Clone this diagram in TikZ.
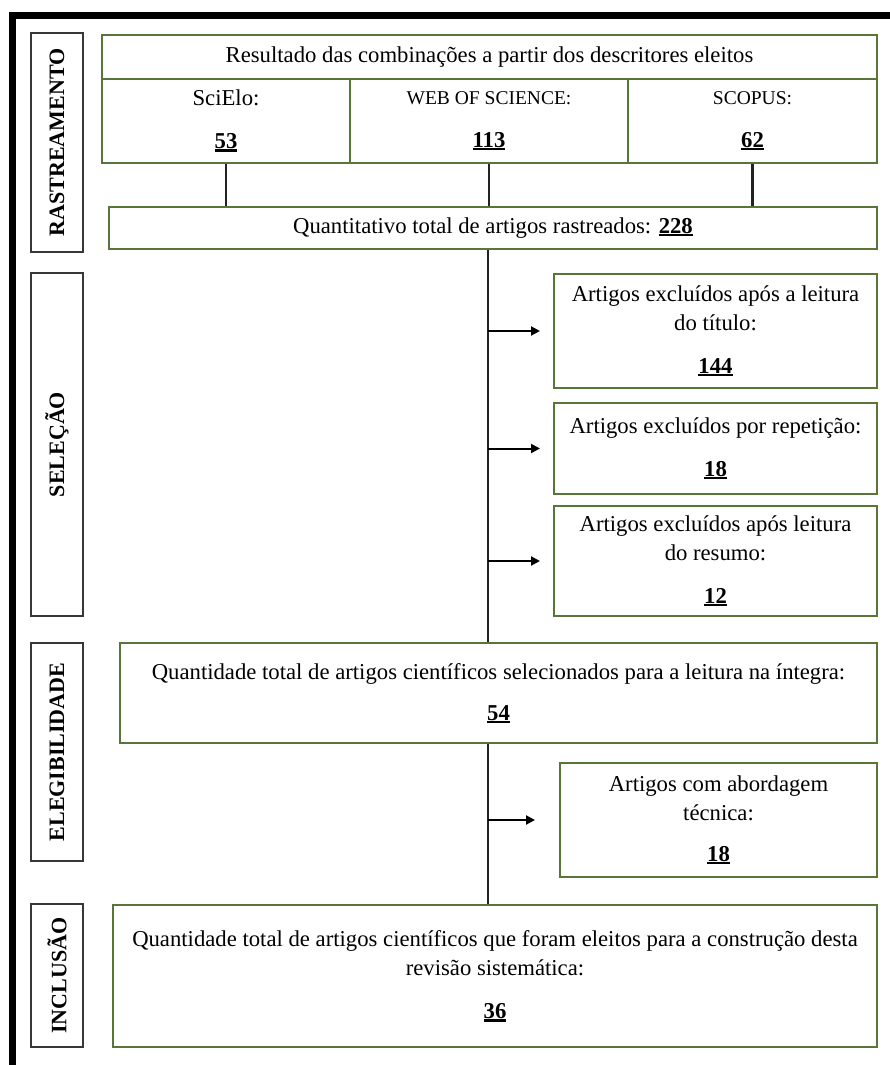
\documentclass[tikz,border=0pt]{standalone}
\usepackage{fontspec}
\setmainfont{Liberation Serif}
\usetikzlibrary{arrows.meta}
\definecolor{boxgreen}{RGB}{88,118,58}
\definecolor{lblgray}{RGB}{55,55,55}
\definecolor{linegray}{RGB}{35,35,35}
\newsavebox\numbox
\newcommand\numul[1]{\sbox\numbox{\textbf{#1}}\rlap{\rule[-3pt]{\wd\numbox}{2.4pt}}\usebox\numbox}
\begin{document}
\begin{tikzpicture}[x=1pt,y=-1pt,font=\fontsize{22.7}{29}\selectfont,
  box/.style={draw=boxgreen,line width=2pt,inner sep=0pt,align=center,anchor=center},
  lbl/.style={draw=lblgray,line width=2pt,inner sep=0pt,rotate=90,anchor=center,
    minimum height=52pt,font=\fontsize{22}{26}\selectfont\bfseries},
  conn/.style={draw=linegray,line width=2.7pt},
  arr/.style={draw=black,line width=2pt,-{Triangle[length=9pt,width=9pt]}},
  small/.style={}]
\useasboundingbox (0,0) rectangle (890,1065);
% outer frame (cut at right and bottom)
\draw[line width=7pt,black,line join=miter] (12.7,1090) -- (12.7,15.5) -- (910,15.5);

% phase labels
\node[lbl,minimum width=219pt] (lrast) at (57,142.5) {RASTREAMENTO};
\node[lbl,minimum width=343pt] (lsel) at (57,444.5) {SELEÇÃO};
\node[lbl,minimum width=218pt] (leleg) at (57,752) {ELEGIBILIDADE};
\node[lbl,minimum width=143pt] (lincl) at (57,975.5) {INCLUSÃO};

% top table
\node[box,minimum width=775pt,minimum height=44pt] (hdr) at (489.5,57)
  {Resultado das combinações a partir dos descritores eleitos};
\node[box,minimum width=248pt,minimum height=84pt] (sci) at (226,121)
  {SciElo:\\[14pt]\numul{53}};
\node[box,minimum width=278pt,minimum height=84pt] (wos) at (489,121)
  {{\fontsize{19.5}{29}\selectfont WEB OF SCIENCE:}\\[14pt]\numul{113}};
\node[box,minimum width=249pt,minimum height=84pt] (sco) at (752.5,121)
  {{\fontsize{19.5}{29}\selectfont SCOPUS:}\\[14pt]\numul{62}};

\node[box,minimum width=768pt,minimum height=42pt] (total) at (493,228)
  {Quantitativo total de artigos rastreados: \numul{228}};

% selection boxes
\node[box,minimum width=323pt,minimum height=114pt] (ex1) at (715.5,331)
  {Artigos excluídos após a leitura\\do título:\\[14pt]\numul{144}};
\node[box,minimum width=323pt,minimum height=91pt] (ex2) at (715.5,448.5)
  {Artigos excluídos por repetição:\\[14pt]\numul{18}};
\node[box,minimum width=323pt,minimum height=110pt] (ex3) at (715.5,561)
  {Artigos excluídos após leitura\\do resumo:\\[14pt]\numul{12}};

% eligibility
\node[box,minimum width=757pt,minimum height=100pt] (eleg) at (498.5,693)
  {Quantidade total de artigos científicos selecionados para a leitura na íntegra:\\[12pt]\numul{54}};
\node[box,minimum width=317pt,minimum height=114pt] (tec) at (718.5,820)
  {Artigos com abordagem\\técnica:\\[12pt]\numul{18}};

% inclusion
\node[box,minimum width=764pt,minimum height=142pt] (incl) at (495,976)
  {Quantidade total de artigos científicos que foram eleitos para a construção desta\\revisão sistemática:\\[14pt]\numul{36}};

% connectors
\coordinate (tk) at (488,0);
\draw[conn] (sci.south) -- (sci.south |- total.north);
\draw[conn] (wos.south) -- (wos.south |- total.north);
\draw[conn] (sco.south) -- (sco.south |- total.north);
\draw[conn] (total.south -| tk) -- (eleg.north -| tk);
\draw[conn] (eleg.south -| tk) -- (incl.north -| tk);
\draw[arr] (tk |- ex1.west) -- ([xshift=-13pt]ex1.west);
\draw[arr] (tk |- ex2.west) -- ([xshift=-13pt]ex2.west);
\draw[arr] (tk |- ex3.west) -- ([xshift=-13pt]ex3.west);
\draw[arr] (tk |- tec.west) -- ([xshift=-24pt]tec.west);
\end{tikzpicture}
\end{document}
